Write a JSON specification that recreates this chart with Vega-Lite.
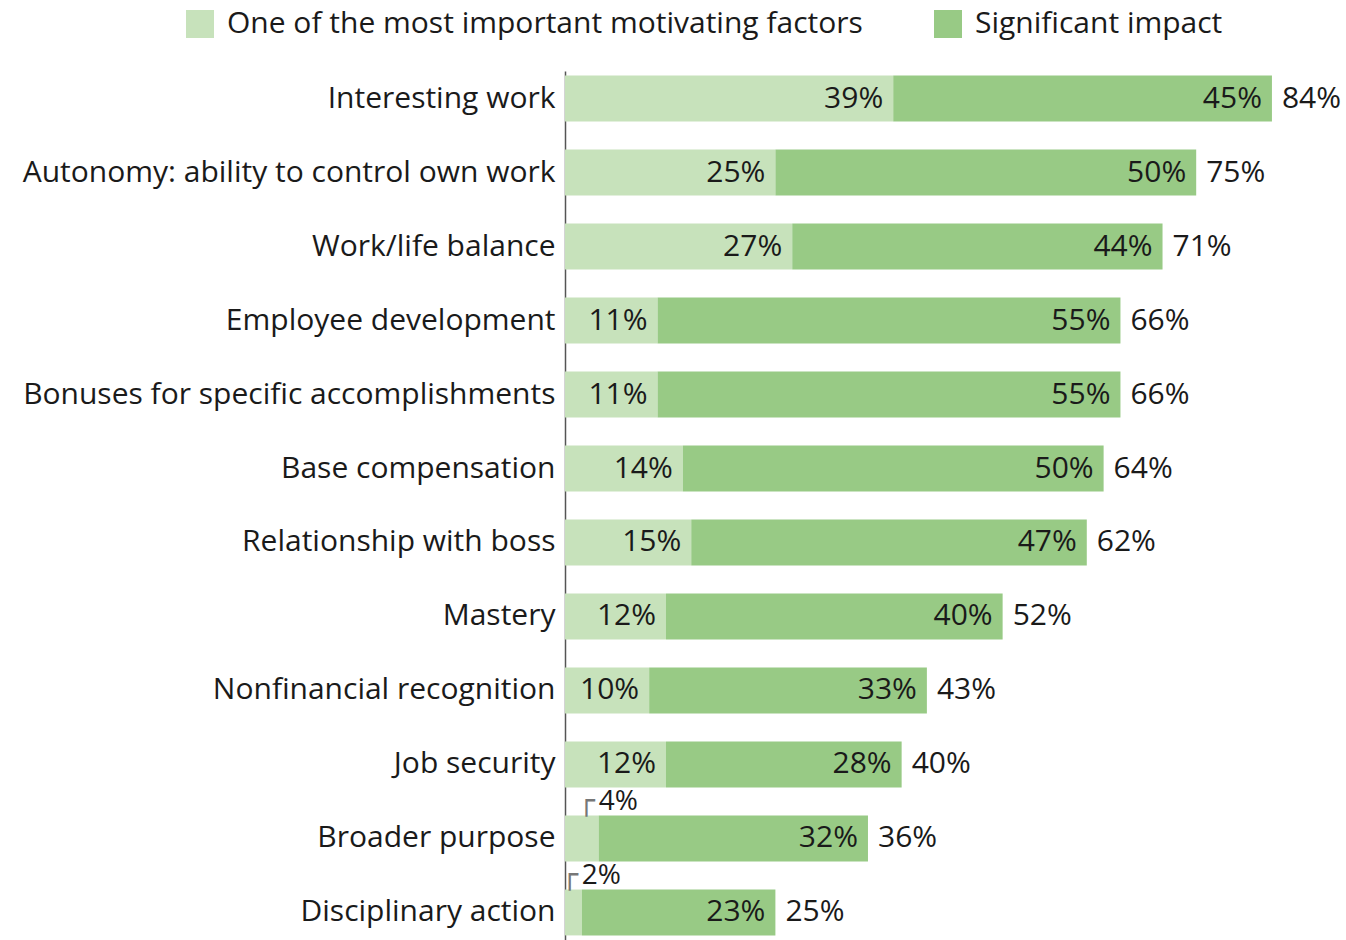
{
  "$schema": "https://vega.github.io/schema/vega-lite/v6.json",
  "width": 781,
  "height": 869,
  "autosize": {"type": "none"},
  "padding": {"left": 565, "top": 71, "right": 0, "bottom": 0},
  "background": "white",
  "config": {
    "view": {"stroke": null},
    "font": "Open Sans",
    "text": {"font": "Open Sans", "fontSize": 30, "color": "#1a1a1a"}
  },
  "data": {
    "values": [
      {"cat": "Interesting work", "series": "One of the most important motivating factors", "value": 0.39},
      {"cat": "Interesting work", "series": "Significant impact", "value": 0.45},
      {"cat": "Autonomy: ability to control own work", "series": "One of the most important motivating factors", "value": 0.25},
      {"cat": "Autonomy: ability to control own work", "series": "Significant impact", "value": 0.50},
      {"cat": "Work/life balance", "series": "One of the most important motivating factors", "value": 0.27},
      {"cat": "Work/life balance", "series": "Significant impact", "value": 0.44},
      {"cat": "Employee development", "series": "One of the most important motivating factors", "value": 0.11},
      {"cat": "Employee development", "series": "Significant impact", "value": 0.55},
      {"cat": "Bonuses for specific accomplishments", "series": "One of the most important motivating factors", "value": 0.11},
      {"cat": "Bonuses for specific accomplishments", "series": "Significant impact", "value": 0.55},
      {"cat": "Base compensation", "series": "One of the most important motivating factors", "value": 0.14},
      {"cat": "Base compensation", "series": "Significant impact", "value": 0.50},
      {"cat": "Relationship with boss", "series": "One of the most important motivating factors", "value": 0.15},
      {"cat": "Relationship with boss", "series": "Significant impact", "value": 0.47},
      {"cat": "Mastery", "series": "One of the most important motivating factors", "value": 0.12},
      {"cat": "Mastery", "series": "Significant impact", "value": 0.40},
      {"cat": "Nonfinancial recognition", "series": "One of the most important motivating factors", "value": 0.10},
      {"cat": "Nonfinancial recognition", "series": "Significant impact", "value": 0.33},
      {"cat": "Job security", "series": "One of the most important motivating factors", "value": 0.12},
      {"cat": "Job security", "series": "Significant impact", "value": 0.28},
      {"cat": "Broader purpose", "series": "One of the most important motivating factors", "value": 0.04},
      {"cat": "Broader purpose", "series": "Significant impact", "value": 0.32},
      {"cat": "Disciplinary action", "series": "One of the most important motivating factors", "value": 0.02},
      {"cat": "Disciplinary action", "series": "Significant impact", "value": 0.23}
    ]
  },
  "transform": [
    {"stack": "value", "groupby": ["cat"], "sort": [{"field": "series", "order": "ascending"}], "as": ["v0", "v1"]}
  ],
  "encoding": {
    "y": {
      "field": "cat",
      "type": "nominal",
      "sort": null,
      "scale": {"paddingInner": 0.38, "paddingOuter": 0.062},
      "axis": {
        "title": null,
        "ticks": false,
        "labelFont": "Open Sans",
        "labelFontSize": 30,
        "labelColor": "#1a1a1a",
        "labelPadding": 10,
        "labelLimit": 700,
        "domainColor": "#555555",
        "domainWidth": 1.5
      }
    }
  },
  "layer": [
    {
      "mark": {"type": "bar"},
      "encoding": {
        "x": {"field": "v0", "type": "quantitative", "scale": {"domain": [0, 0.928], "nice": false, "zero": true}, "axis": null},
        "x2": {"field": "v1"},
        "color": {
          "field": "series",
          "type": "nominal",
          "scale": {"domain": ["One of the most important motivating factors", "Significant impact"], "range": ["#c7e2bb", "#98ca85"]},
          "legend": {
            "title": null,
            "orient": "none",
            "direction": "horizontal",
            "legendX": -380,
            "legendY": -62,
            "symbolType": "square",
            "symbolSize": 784,
            "symbolStrokeWidth": 0,
            "labelFont": "Open Sans",
            "labelFontSize": 30,
            "labelColor": "#1a1a1a",
            "labelOffset": 12,
            "columnPadding": 70,
            "labelLimit": 800
          }
        }
      }
    },
    {
      "transform": [{"filter": "datum.value >= 0.05"}],
      "mark": {"type": "text", "align": "right", "baseline": "middle", "dx": -10},
      "encoding": {
        "x": {"field": "v1", "type": "quantitative"},
        "text": {"field": "value", "type": "quantitative", "format": ".0%"}
      }
    },
    {
      "transform": [{"filter": "datum.series == 'Significant impact'"}],
      "mark": {"type": "text", "align": "left", "baseline": "middle", "dx": 10},
      "encoding": {
        "x": {"field": "v1", "type": "quantitative"},
        "text": {"field": "v1", "type": "quantitative", "format": ".0%"}
      }
    },
    {
      "transform": [{"filter": "datum.value < 0.05"}],
      "mark": {"type": "text", "align": "left", "baseline": "middle", "dx": 0, "dy": -36, "fontSize": 28},
      "encoding": {
        "x": {"field": "v1", "type": "quantitative"},
        "text": {"field": "value", "type": "quantitative", "format": ".0%"}
      }
    },
    {
      "transform": [{"filter": "datum.value < 0.05"}],
      "mark": {"type": "text", "align": "center", "baseline": "alphabetic", "dx": -12, "dy": -28, "font": "DejaVu Sans", "fontSize": 28, "color": "#777777"},
      "encoding": {
        "x": {"field": "v1", "type": "quantitative"},
        "text": {"value": "┌"}
      }
    }
  ]
}
